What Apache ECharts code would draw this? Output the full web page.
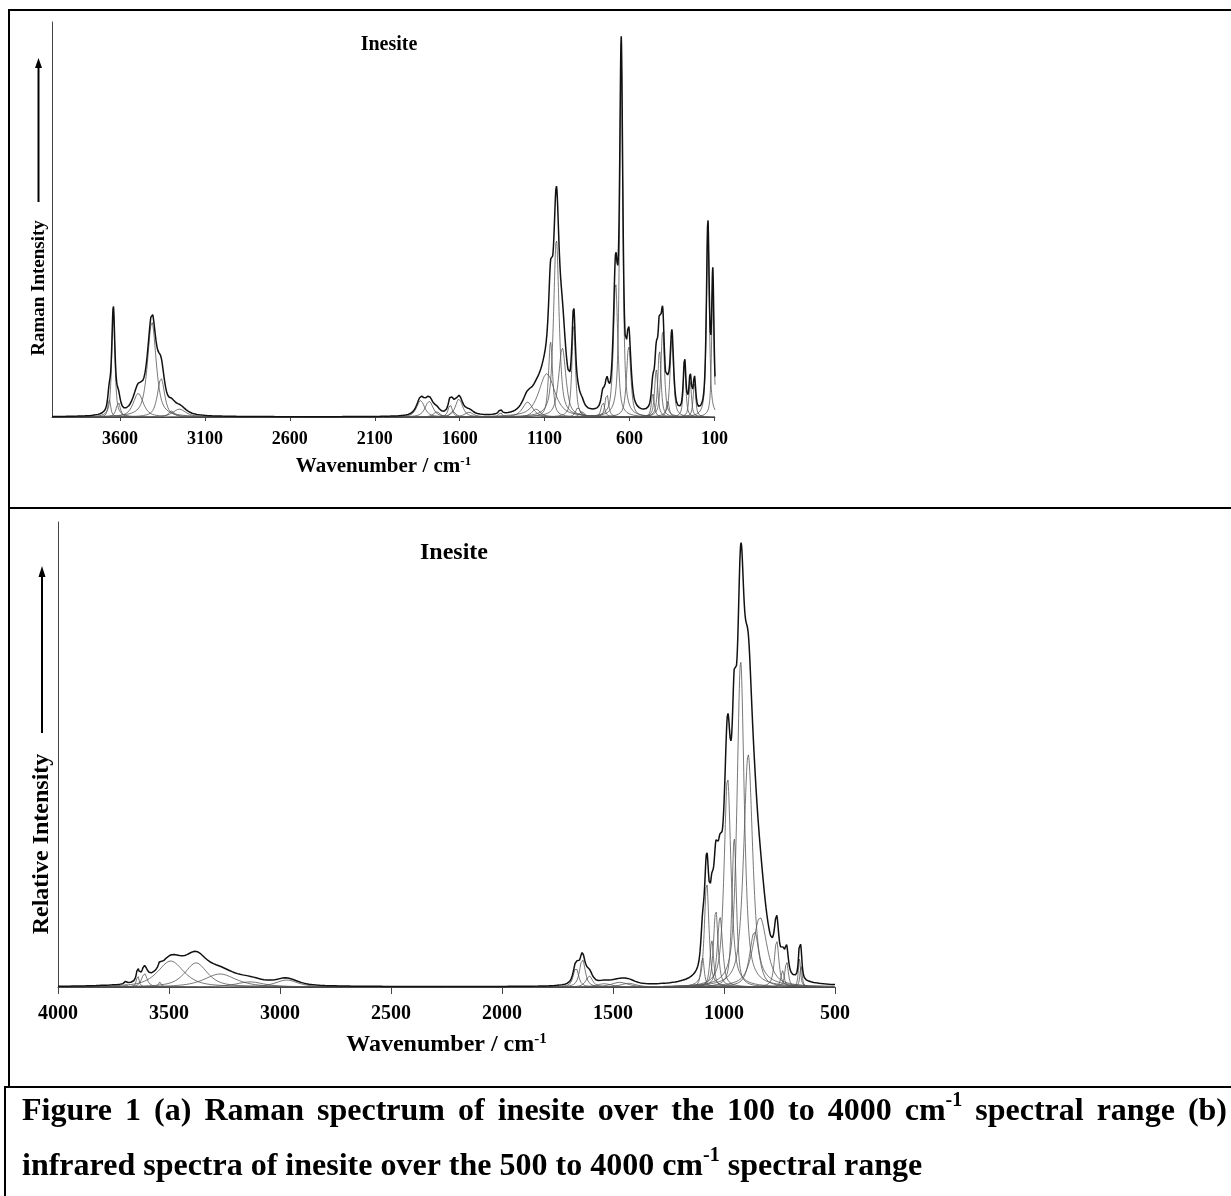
<!DOCTYPE html>
<html>
<head>
<meta charset="utf-8">
<script src="https://cdn.jsdelivr.net/npm/echarts@6/dist/echarts.min.js"></script>
<style>
  html, body { margin: 0; padding: 0; background: #fff; }
  #main { width: 1231px; height: 1196px; }
</style>
</head>
<body>
<div id="main"></div>
<script>
// (a) Raman band fit of inesite: band position / cm-1, peak height, FWHM / cm-1
const ramanCenters = [3663, 3639, 3610, 3492, 3412, 3358, 3296, 3250, 1830, 1780, 1735, 1656, 1640, 1604, 1545, 1361,
  1200, 1150, 1087, 1065, 1031, 996, 929, 904, 880, 757, 734, 682, 649, 605, 463, 443, 424, 405, 375, 351, 276, 243, 218, 139, 110];
const ramanHeights = [4.5, 26.5, 3.8, 6, 24, 9.8, 1.6, 2, 4.2, 4, 1.3, 3.2, 1.5, 4.6, 1.2, 1.2,
  3.8, 2, 11, 19, 45, 17.5, 23.5, 2.5, 1.5, 3.9, 6, 34, 90, 18, 6, 12, 17, 22, 4, 20, 13.5, 9, 8.5, 48, 34];
const ramanWidths = [20, 22, 28, 70, 60, 50, 40, 90, 55, 55, 45, 28, 35, 50, 60, 22,
  70, 60, 110, 28, 38, 50, 24, 30, 30, 24, 24, 30, 22, 30, 20, 22, 22, 24, 20, 24, 18, 18, 18, 20, 16];
const ramanTicks = [3600, 3100, 2600, 2100, 1600, 1100, 600, 100];

// (b) infrared band fit of inesite
const irCenters = [3694, 3641, 3611, 3541, 3492, 3378, 3270, 3135, 2970, 1667, 1638, 1607, 1540, 1470, 1430,
  1097, 1078, 1055, 1037, 1018, 984, 954, 925, 891, 863, 838, 763, 736, 718, 660, 653];
const irHeights = [0.5, 2.6, 2.9, 1.1, 5.6, 5.2, 2.8, 1.1, 1.5, 4.2, 6, 2.4, 0.7, 1.0, 0.8,
  6.5, 22.5, 10, 16.5, 15, 45, 32, 70, 50, 12, 15, 10, 3.5, 5.5, 6, 4.5];
const irWidths = [12, 14, 30, 14, 140, 120, 170, 150, 120, 28, 30, 35, 80, 90, 80,
  18, 24, 20, 24, 28, 36, 24, 38, 48, 50, 75, 24, 18, 18, 12, 12];
const irTicks = [4000, 3500, 3000, 2500, 2000, 1500, 1000, 500];

const FONT = '"Liberation Serif", "Times New Roman", serif';
const ETA = 0.7; // lorentzian share of the band shape

function band(x, c, h, w) {
  const d = (x - c) / w;
  return h * (ETA / (1 + 4 * d * d) + (1 - ETA) * Math.exp(-4 * Math.LN2 * d * d));
}

// component bands (thin grey) + envelope (black)
function bandSeries(centers, heights, widths, xmin, xmax, idx) {
  const out = [];
  centers.forEach(function (c, i) {
    const pts = [];
    const a = Math.max(xmin, Math.round(c - 8 * widths[i]));
    const b = Math.min(xmax, Math.round(c + 8 * widths[i]));
    for (let x = a; x <= b; x++) pts.push([x, band(x, c, heights[i], widths[i])]);
    out.push({
      type: 'line', xAxisIndex: idx, yAxisIndex: idx, data: pts,
      symbol: 'none', silent: true, animation: false, z: 2,
      lineStyle: { color: '#555', width: 0.8 }
    });
  });
  const env = [];
  for (let x = xmin; x <= xmax; x++) {
    let s = 0;
    centers.forEach(function (c, i) { s += band(x, c, heights[i], widths[i]); });
    env.push([x, s]);
  }
  out.push({
    type: 'line', xAxisIndex: idx, yAxisIndex: idx, data: env,
    symbol: 'none', silent: true, animation: false, z: 3,
    lineStyle: { color: '#111', width: 1.5 }
  });
  return out;
}

function xAxisOf(idx, min, max, ticks, labelSize, nameSize, nameGap, tickLen, margin) {
  return {
    type: 'value', gridIndex: idx, min: min, max: max, inverse: true,
    name: 'Wavenumber / cm{sup|-1}', nameLocation: 'middle', nameGap: nameGap,
    nameTextStyle: {
      color: '#000', fontFamily: FONT, fontWeight: 'bold', fontSize: nameSize, lineHeight: nameSize + 2,
      rich: { sup: { color: '#000', fontFamily: FONT, fontWeight: 'bold', fontSize: Math.round(nameSize * 0.62), verticalAlign: 'top', lineHeight: 10 } }
    },
    axisLine: { lineStyle: { color: '#444', width: 1 } },
    axisTick: { customValues: ticks, length: tickLen, lineStyle: { color: '#444' } },
    axisLabel: {
      customValues: ticks, color: '#000', fontFamily: FONT, fontWeight: 'bold', fontSize: labelSize, margin: margin,
      formatter: function (v) { return String(v); }
    },
    splitLine: { show: false }
  };
}

function yAxisOf(idx) {
  return {
    type: 'value', gridIndex: idx, min: 0, max: 100,
    axisLine: { show: true, lineStyle: { color: '#444', width: 1 } },
    axisTick: { show: false }, axisLabel: { show: false }, splitLine: { show: false }
  };
}

// caption, justified like the printed figure
const measureCtx = document.createElement('canvas').getContext('2d');
function textWidth(t, size) {
  measureCtx.font = 'bold ' + size + 'px ' + FONT;
  return measureCtx.measureText(t).width;
}
const CAP = 32, SUP = 20;
const capLine1 = ['Figure', '1', '(a)', 'Raman', 'spectrum', 'of', 'inesite', 'over', 'the', '100', 'to', '4000', 'cm^', 'spectral', 'range', '(b)'];
const capLine2 = ['infrared', 'spectra', 'of', 'inesite', 'over', 'the', '500', 'to', '4000', 'cm^', 'spectral', 'range'];

function wordW(w) {
  return w === 'cm^' ? textWidth('cm', CAP) + textWidth('-1', SUP) : textWidth(w, CAP);
}
function captionLine(words, y, x0, x1) {
  const els = [];
  const widths = words.map(wordW);
  const total = widths.reduce(function (a, b) { return a + b; }, 0);
  const gap = x1 ? (x1 - x0 - total) / (words.length - 1) : textWidth(' ', CAP);
  let x = x0;
  words.forEach(function (w, i) {
    const t = w === 'cm^' ? 'cm' : w;
    els.push({ type: 'text', x: x, y: y, style: { text: t, fill: '#000', font: 'bold ' + CAP + 'px ' + FONT, verticalAlign: 'middle' } });
    if (w === 'cm^') {
      els.push({ type: 'text', x: x + textWidth('cm', CAP), y: y - 11, style: { text: '-1', fill: '#000', font: 'bold ' + SUP + 'px ' + FONT, verticalAlign: 'middle' } });
    }
    x += widths[i] + gap;
  });
  return els;
}

function line(x1, y1, x2, y2, w) {
  return { type: 'line', shape: { x1: x1, y1: y1, x2: x2, y2: y2 }, style: { stroke: '#000', lineWidth: w } };
}

const graphics = [
  // frames
  line(9, 10, 1231, 10, 2),
  line(9, 9, 9, 1088, 2),
  line(9, 508, 1231, 508, 2),
  line(5, 1087, 1231, 1087, 2),
  line(5, 1086, 5, 1196, 2),
  // panel titles
  { type: 'text', x: 389, y: 45, style: { text: 'Inesite', fill: '#000', font: 'bold 20px ' + FONT, align: 'center', verticalAlign: 'middle' } },
  { type: 'text', x: 454, y: 553, style: { text: 'Inesite', fill: '#000', font: 'bold 24px ' + FONT, align: 'center', verticalAlign: 'middle' } },
  // y titles with arrows
  { type: 'text', x: 39, y: 288, rotation: Math.PI / 2, style: { text: 'Raman Intensity', fill: '#000', font: 'bold 19px ' + FONT, align: 'center', verticalAlign: 'middle' } },
  line(38.5, 202, 38.5, 66, 2),
  { type: 'polygon', shape: { points: [[38.5, 58], [35, 68], [42, 68]] }, style: { fill: '#000' } },
  { type: 'text', x: 42, y: 844, rotation: Math.PI / 2, style: { text: 'Relative Intensity', fill: '#000', font: 'bold 24px ' + FONT, align: 'center', verticalAlign: 'middle' } },
  line(42, 733, 42, 575, 2),
  { type: 'polygon', shape: { points: [[42, 566], [38.5, 577], [45.5, 577]] }, style: { fill: '#000' } }
].concat(captionLine(capLine1, 1112, 22, 1227), captionLine(capLine2, 1167, 22, null));

const chart = echarts.init(document.getElementById('main'), null, { renderer: 'canvas' });
chart.setOption({
  backgroundColor: '#fff',
  animation: false,
  grid: [
    { left: 52, top: 22, width: 663, height: 395 },
    { left: 58, top: 522, width: 777, height: 465 }
  ],
  xAxis: [
    xAxisOf(0, 97, 4000, ramanTicks, 18, 21, 38, 4, 13),
    xAxisOf(1, 500, 4000, irTicks, 20, 24, 45, 7, 17)
  ],
  yAxis: [yAxisOf(0), yAxisOf(1)],
  series: bandSeries(ramanCenters, ramanHeights, ramanWidths, 97, 4000, 0)
    .concat(bandSeries(irCenters, irHeights, irWidths, 500, 4000, 1)),
  graphic: graphics
});
</script>
</body>
</html>
